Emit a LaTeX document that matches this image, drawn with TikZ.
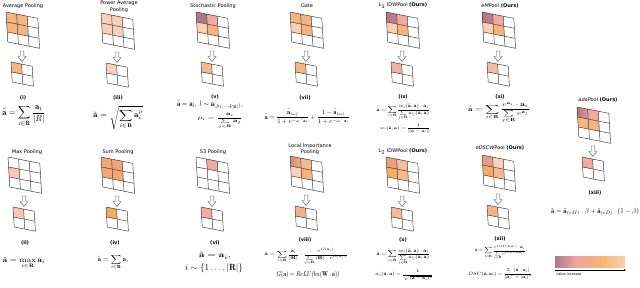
\documentclass[tikz,border=0pt]{standalone}
\usepackage{amsmath,amssymb}
\usepackage{graphicx}
\usepackage{fontspec}
\newfontfamily\tfont{DejaVu Sans}
\usetikzlibrary{arrows.meta}
\definecolor{cOr}{RGB}{246,180,126}
\definecolor{cPe}{RGB}{250,207,178}
\definecolor{cMa}{RGB}{178,118,136}
\definecolor{cPi}{RGB}{242,170,160}
\definecolor{cPw}{RGB}{250,208,186}
\definecolor{cSo}{RGB}{246,186,140}
\definecolor{cLio}{RGB}{244,178,162}
\definecolor{cEMo}{RGB}{246,186,166}
\definecolor{cAdo}{RGB}{240,170,158}
\definecolor{cMx}{RGB}{250,198,182}
\definecolor{cSu}{RGB}{244,166,116}
\definecolor{cSuo}{RGB}{246,170,92}
\definecolor{cLa}{RGB}{206,136,134}
\definecolor{cLb}{RGB}{246,186,146}
\definecolor{cLc}{RGB}{250,210,186}
\definecolor{cLo}{RGB}{243,176,134}
\definecolor{cQa}{RGB}{238,160,122}
\definecolor{cQb}{RGB}{246,190,150}
\definecolor{cQc}{RGB}{246,174,100}
\definecolor{cQd}{RGB}{246,186,136}
\definecolor{cQo}{RGB}{246,184,150}
\definecolor{cDa}{RGB}{232,156,134}
\definecolor{cDb}{RGB}{250,210,190}
\definecolor{cDc}{RGB}{246,170,104}
\definecolor{cDo}{RGB}{246,178,140}
\definecolor{cBa}{RGB}{176,120,140}
\definecolor{cBb}{RGB}{236,166,156}
\definecolor{cBc}{RGB}{248,180,115}
\definecolor{cBd}{RGB}{250,208,172}
\pgfdeclarehorizontalshading{valbar}{100bp}{color(0bp)=(cBa); color(25bp)=(cBa); color(40bp)=(cBb); color(58bp)=(cBc); color(75bp)=(cBd); color(100bp)=(cBd)}
\tikzset{
  gl/.style={line width=0.45pt, draw=black!80},
  harrow/.style={draw=black!70, line width=0.4pt, fill=white, line join=miter},
  ttl/.style={font=\tfont\fontsize{5}{6.5}\selectfont, align=center, inner sep=0pt},
  lbl/.style={font=\tfont\bfseries\fontsize{5}{6}\selectfont, inner sep=0pt},
  fm/.style={inner sep=0pt},
  small/.style={font=\tfont\fontsize{3.5}{4}\selectfont, inner sep=0pt}
}
\newcommand\cf[3]{\fill[#3] (#1,#2) -- ++(1,0) -- ++(0,1) -- ++(-1,0) -- cycle;}
\newcommand\cs[4]{\shade[left color=#3,right color=#4] (#1,#2) -- ++(1,0) -- ++(0,1) -- ++(-1,0) -- cycle;}
\newcommand\pgrid[3]{%
  \begin{scope}[shift={(#1)}, x={(10.6pt,-2.1pt)}, y={(0.6pt,-10pt)}]
    #3
    \foreach \k in {0,...,#2} {\draw[gl] (\k,0) -- (\k,#2); \draw[gl] (0,\k) -- (#2,\k);}
  \end{scope}}
\newcommand\darrow[1]{%
  \begin{scope}[shift={(#1)}]
    \draw[harrow] (-1.8,0) -- (1.8,0) -- (1.8,5.5) -- (4,5.5) -- (0,10.5) -- (-4,5.5) -- (-1.8,5.5) -- cycle;
  \end{scope}}
\newcommand\poolunit[4]{%
  \pgrid{#1,#2}{3}{#3}%
  \darrow{{#1+16},{#2+39}}%
  \pgrid{{#1+5},{#2+50}}{2}{\cf00{#4}}%
}
\newcommand\fml[3]{\resizebox*{#1pt}{#2pt}{$\displaystyle #3$}}
\newcommand\ta{\tilde{\mathbf a}}
\newcommand\ba{\mathbf a}
\newcommand\bR{\mathbf R}
\begin{document}
\begin{tikzpicture}[x=1pt,y=-1pt]
\useasboundingbox (0,0) rectangle (640,287);
\fill[white] (0,0) rectangle (640,287);
% top row
\poolunit{6}{12}{\cf00{cOr}\cf10{cOr}\cf01{cOr}\cf11{cOr}}{cOr}
\poolunit{101}{13}{\cf00{cPw}\cf10{cPw}\cf01{cPw}\cf11{cPw}}{cPw}
\poolunit{196}{12}{\cf00{cMa}\cf10{cPi}\cf01{cPe}\cf11{cOr}}{cSo}
\poolunit{290}{12}{\cf00{cOr}\cf10{cOr}\cf01{cPe}\cf11{cOr}}{cOr}
\poolunit{386}{12}{\cs00{cMa}{cMa!80!cPi}\cf10{cPi}\cf01{cPe}\cf11{cOr}}{cLio}
\poolunit{482}{12}{\cs00{cMa}{cMa!80!cPi}\cf10{cPi}\cf01{cPe}\cf11{cOr}}{cEMo}
\poolunit{577}{107}{\cs00{cMa}{cPi!70!cMa}\cf10{cPi}\cf01{cOr}\cf11{cOr}}{cAdo}
% bottom row
\poolunit{8}{157}{\cf01{cMx}}{cMx}
\poolunit{101}{157}{\cf00{cSu}\cf10{cSu}\cf01{cSu}\cf11{cSu}}{cSuo}
\poolunit{196}{157}{\cf10{cPi}}{cPi}
\poolunit{290}{156}{\cs00{cLa}{cOr}\cf10{cLb}\cf01{cLc}\cf11{cOr}}{cLo}
\poolunit{386}{157}{\cf00{cQa}\cf10{cQb}\cf01{cQc}\cf11{cQd}}{cQo}
\poolunit{482}{155}{\cf00{cDa}\cf10{cDb}\cf01{cDc}\cf11{cQd}}{cDo}
% titles
\node[ttl] (tA) at (23,6) {Average Pooling};
\node[ttl] (tB) at (119,6.5) {Power Average\\Pooling};
\node[ttl] (tC) at (213,6) {Stochastic Pooling};
\node[ttl] (tD) at (307,6) {Gate};
\node[ttl] (tE) at (403,6) {L\textsubscript{1} IDWPool \textbf{(Ours)}};
\node[ttl] (tF) at (500,6) {\textit{eM}Pool \textbf{(Ours)}};
\node[ttl] (tG) at (598,100) {\textit{ada}Pool \textbf{(Ours)}};
\node[ttl] (tH) at (27,152) {Max Pooling};
\node[ttl] (tI) at (118,152) {Sum Pooling};
\node[ttl] (tJ) at (213,152) {S3 Pooling};
\node[ttl] (tK) at (310,149) {Local Importance\\Pooling};
\node[ttl] (tL) at (403,152) {L\textsubscript{2} IDWPool \textbf{(Ours)}};
\node[ttl] (tM) at (500,148) {\textit{eDSCW}Pool \textbf{(Ours)}};
% labels
\node[lbl] (li) at (23,98) {(i)};
\node[lbl] (liii) at (118,98) {(iii)};
\node[lbl] (lv) at (215,97) {(v)};
\node[lbl] (lvii) at (305,98) {(vii)};
\node[lbl] (lix) at (403,97) {(ix)};
\node[lbl] (lxi) at (500,97) {(xi)};
\node[lbl] (lxiii) at (595,193) {(xiii)};
\node[lbl] (lii) at (25,243) {(ii)};
\node[lbl] (liv) at (115,243) {(iv)};
\node[lbl] (lvi) at (215,243) {(vi)};
\node[lbl] (lviii) at (305,240) {(viii)};
\node[lbl] (lx) at (403,240) {(x)};
\node[lbl] (lxii) at (500,239) {(xii)};
% formulas
\node[fm] (fi) at (24,116) {\fml{43}{22}{\ta=\sum_{i\in\bR}\frac{\ba_i}{|R|}}};
\node[fm] (fiii) at (118,118) {\fml{50}{24}{\ta=\sqrt{\sum_{i\in\bR}\ba_i^{\rho}}}};
\node[fm] (fv1) at (210,105) {\fml{66}{9}{\ta=\ba_l,\; l\sim\ba_{(p_1,\ldots,p_{|\bR|})},}};
\node[fm] (fv2) at (220,121) {\fml{45}{15}{p_i=\frac{\ba_i}{\sum\limits_{j\in\bR}\ba_j}}};
\node[fm] (fvii) at (307,117) {\fml{85}{15}{\ta=\frac{\ta_{(\omega)}}{1+e^{-\omega^{\top}\ba_i}}+\frac{1-\ta_{(\omega)}}{1+e^{-\omega^{\top}\ba_i}}}};
\node[fm] (fix1) at (404,112) {\fml{55}{16}{\ta=\sum_{i\in\bR}\frac{w_i(\ta,\ba)\cdot\ba_i}{\sum\limits_{j\in\bR}w_j(\ta,\ba)},}};
\node[fm] (fix2) at (405,128.5) {\fml{50}{9}{w_i(\ta,\ba)=\frac{1}{\|\ta-\ba_i\|}}};
\node[fm] (fxi) at (499,112.5) {\fml{62}{20}{\ta=\sum_{i\in\bR}\frac{e^{\ba_i}\cdot\ba_i}{\sum\limits_{j\in\bR}e^{\ba_j}}}};
\node[fm] (fii) at (24,263) {\fml{42}{11}{\ta=\max_{i\in\bR}\ba_i}};
\node[fm] (fiv) at (113,262) {\fml{31}{15}{\ta=\sum_{i\in\bR}\ba_i}};
\node[fm] (fvi1) at (215,256) {\fml{32}{7}{\ta=\ba_i,}};
\node[fm] (fvi2) at (214,268) {\fml{58}{9}{i\sim\{1\ldots,|\bR|\}}};
\node[fm] (fviii1) at (306,256.5) {\fml{83}{16}{\ta=\sum_{i\in\bR}\frac{\ba_i}{|\bR|}\cdot\frac{e^{G(\ba_i)}}{\sum\limits_{j\in\bR}|\bR|\cdot e^{G(\ba_j)}}}};
\node[fm] (fviii2) at (308,274.5) {\fml{63}{7}{G(\ba)=ReLU(bn(\mathbf W\cdot\ba))}};
\node[fm] (fx1) at (404,256.5) {\fml{55}{16}{\ta=\sum_{i\in\bR}\frac{w_i(\ta,\ba)\cdot\ba_i}{\sum\limits_{j\in\bR}w_j(\ta,\ba)},}};
\node[fm] (fx2) at (404,275.5) {\fml{58}{11}{w_i(\ta,\ba)=\frac{1}{\sqrt{(\ta-\ba_i)^2}}}};
\node[fm] (fxii1) at (501,252.5) {\fml{52}{15}{\ta=\sum_{i\in\bR}\frac{e^{DSC(\ta,\ba_i)}\cdot\ba_i}{\sum\limits_{j\in\bR}e^{DSC(\ta,\ba_j)}},}};
\node[fm] (fxii2) at (500,274) {\fml{64}{11}{DSC(\ta,\ba_i)=\frac{2\cdot|\ta\cdot\ba_i|}{|\ta|^2+|\ba_i|^2}}};
\node[fm] (fxiii) at (595,212) {\fml{88}{8}{\ta=\ta_{(eM)}\cdot\beta+\ta_{(eD)}\cdot(1-\beta)}};
% value bar
\shade[shading=valbar] (555,256) rectangle (625,267);
\coordinate (vs) at (555,270);
\coordinate (ve) at (626,270);
\draw[line width=0.4pt, -{Stealth[length=2pt,width=1.6pt]}] (vs) -- (ve);
\node[small, anchor=west] (vtxt) at (556,274) {value increase};
\end{tikzpicture}
\end{document}
